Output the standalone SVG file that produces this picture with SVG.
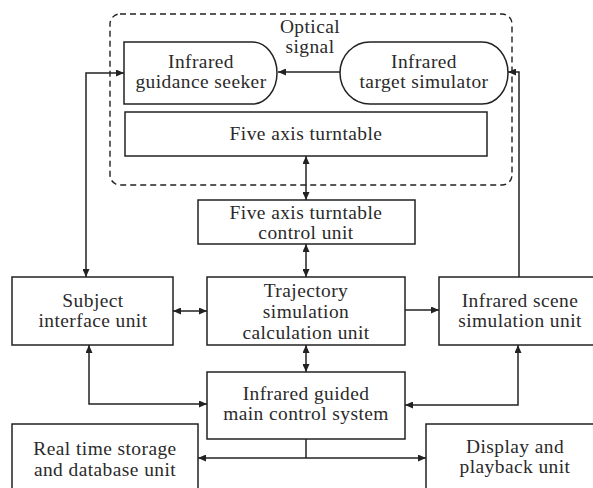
<svg xmlns="http://www.w3.org/2000/svg" width="593" height="488" viewBox="0 0 593 488">
  <style>
    .box { fill: #ffffff; stroke: #222222; stroke-width: 1.5; }
    .dash { fill: none; stroke: #222222; stroke-width: 1.4; stroke-dasharray: 6 4; }
    .t { font-family: "Liberation Serif", "Times New Roman", serif; font-size: 18px; letter-spacing: 0.4px; fill: #2a2a2a; text-anchor: middle; }
    .c { fill: none; stroke: #222222; stroke-width: 1.5; }
  </style>
  <defs>
    <marker id="ah" markerUnits="userSpaceOnUse" markerWidth="8" markerHeight="7" refX="8" refY="3.5" orient="auto-start-reverse">
      <path d="M0,0 L8,3.5 L0,7 Z" fill="#222222"/>
    </marker>
  </defs>
  <rect width="593" height="488" fill="#ffffff"/>

  <g id="optical-group">
    <rect class="dash" x="110" y="14" width="402" height="171" rx="10"/>
    <text class="t" transform="translate(310,33) scale(1.08,1)">Optical</text>
    <text class="t" transform="translate(310,53) scale(1.08,1)">signal</text>
  </g>

  <g id="seeker">
    <path class="box" d="M124,42 H252 A25,31 0 0 1 252,104 H124 Z"/>
    <text class="t" transform="translate(201,68) scale(1.08,1)">Infrared</text>
    <text class="t" transform="translate(201,88) scale(1.08,1)">guidance seeker</text>
  </g>

  <g id="target-simulator">
    <path class="box" d="M370,42 H482 A26,31 0 0 1 482,104 H370 A30,31 0 0 1 370,42 Z"/>
    <text class="t" transform="translate(424,68) scale(1.08,1)">Infrared</text>
    <text class="t" transform="translate(424,88) scale(1.08,1)">target simulator</text>
  </g>

  <g id="turntable">
    <rect class="box" x="125" y="112" width="362" height="44"/>
    <text class="t" transform="translate(306,140) scale(1.08,1)">Five axis turntable</text>
  </g>

  <g id="turntable-control">
    <rect class="box" x="198" y="200" width="217" height="44"/>
    <text class="t" transform="translate(306,219) scale(1.08,1)">Five axis turntable</text>
    <text class="t" transform="translate(306,239) scale(1.08,1)">control unit</text>
  </g>

  <g id="subject-interface">
    <rect class="box" x="12" y="277" width="161" height="68"/>
    <text class="t" transform="translate(93,307) scale(1.08,1)">Subject</text>
    <text class="t" transform="translate(93,327) scale(1.08,1)">interface unit</text>
  </g>

  <g id="trajectory">
    <rect class="box" x="207" y="277" width="198" height="68"/>
    <text class="t" transform="translate(306,297) scale(1.08,1)">Trajectory</text>
    <text class="t" transform="translate(306,318) scale(1.08,1)">simulation</text>
    <text class="t" transform="translate(306,339) scale(1.08,1)">calculation unit</text>
  </g>

  <g id="scene-simulation">
    <rect class="box" x="439" y="277" width="170" height="68"/>
    <text class="t" transform="translate(520,307) scale(1.08,1)">Infrared scene</text>
    <text class="t" transform="translate(520,327) scale(1.08,1)">simulation unit</text>
  </g>

  <g id="main-control">
    <rect class="box" x="207" y="372" width="198" height="67"/>
    <text class="t" transform="translate(306,400) scale(1.08,1)">Infrared guided</text>
    <text class="t" transform="translate(306,420) scale(1.08,1)">main control system</text>
  </g>

  <g id="storage">
    <rect class="box" x="12" y="424" width="186" height="80"/>
    <text class="t" transform="translate(105,455) scale(1.08,1)">Real time storage</text>
    <text class="t" transform="translate(105,476) scale(1.08,1)">and database unit</text>
  </g>

  <g id="display">
    <rect class="box" x="426" y="424" width="180" height="80"/>
    <text class="t" transform="translate(515,453) scale(1.08,1)">Display and</text>
    <text class="t" transform="translate(515,473) scale(1.08,1)">playback unit</text>
  </g>

  <g id="connectors">
    <path class="c" d="M340,72 H278" marker-end="url(#ah)"/>
    <path class="c" d="M124,73 H86 V277" marker-start="url(#ah)" marker-end="url(#ah)"/>
    <path class="c" d="M519,277 V72 H508" marker-end="url(#ah)"/>
    <path class="c" d="M306,156 V200" marker-start="url(#ah)" marker-end="url(#ah)"/>
    <path class="c" d="M306,244 V277" marker-start="url(#ah)" marker-end="url(#ah)"/>
    <path class="c" d="M173,311 H207" marker-start="url(#ah)" marker-end="url(#ah)"/>
    <path class="c" d="M405,310 H439" marker-end="url(#ah)"/>
    <path class="c" d="M306,345 V372" marker-start="url(#ah)" marker-end="url(#ah)"/>
    <path class="c" d="M89,345 V404 H207" marker-start="url(#ah)" marker-end="url(#ah)"/>
    <path class="c" d="M518,345 V405 H405" marker-start="url(#ah)" marker-end="url(#ah)"/>
    <path class="c" d="M306,439 V458"/>
    <path class="c" d="M198,458 H426" marker-start="url(#ah)" marker-end="url(#ah)"/>
  </g>
</svg>
